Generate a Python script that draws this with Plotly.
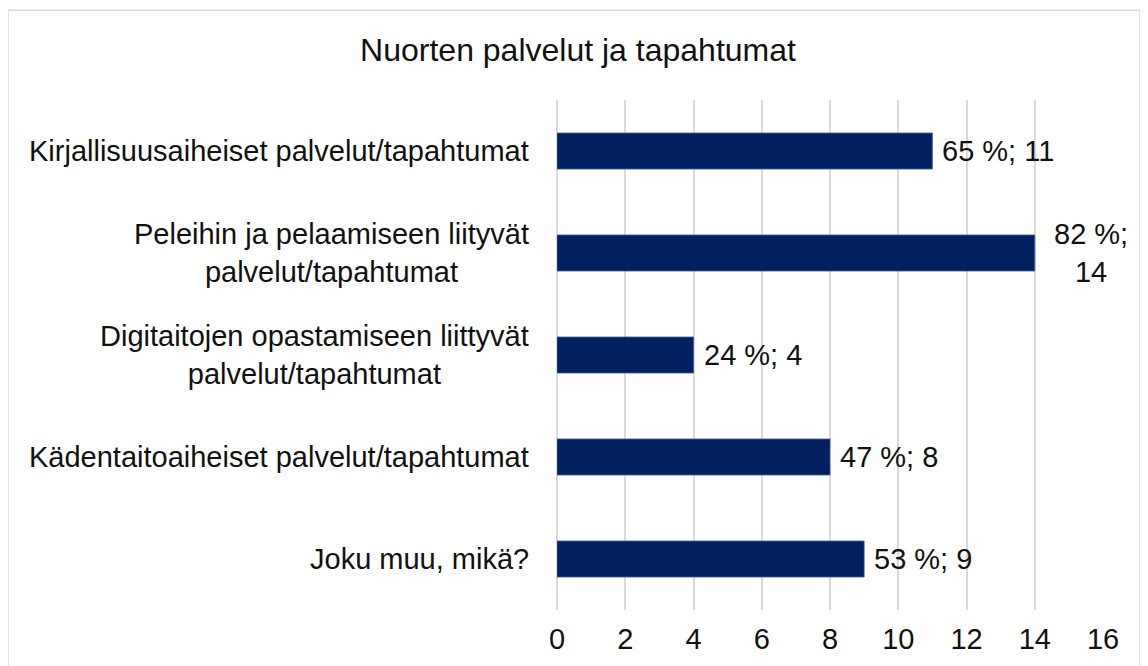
import plotly.graph_objects as go

# Data
categories = [
    "Kirjallisuusaiheiset palvelut/tapahtumat",
    "Peleihin ja pelaamiseen liityvät<br>palvelut/tapahtumat",
    "Digitaitojen opastamiseen liittyvät<br>palvelut/tapahtumat",
    "Kädentaitoaiheiset palvelut/tapahtumat",
    "Joku muu, mikä?",
]
counts = [11, 14, 4, 8, 9]
shares = [65, 82, 24, 47, 53]
x_ticks = [0, 2, 4, 6, 8, 10, 12, 14, 16]

FONT = "Liberation Sans, Arial, sans-serif"
TXT = "#111111"
BAR = "#002060"
GRID = "#D9D9D9"

fig = go.Figure()

fig.add_trace(
    go.Bar(
        x=counts,
        y=categories,
        orientation="h",
        marker=dict(color=BAR, line=dict(color="#3B5B97", width=0.8)),
        hoverinfo="skip",
    )
)

# Data labels; the long one wraps like in the original
for c, s, cat in zip(counts, shares, categories):
    label = f"{s} %; {c}"
    shift = 8
    if c == max(counts):
        label = f"{s} %;<br>{c}"
        shift = 17
    fig.add_annotation(
        x=c, y=cat, xref="x", yref="y",
        text=label, showarrow=False,
        xanchor="left", yanchor="middle", align="center",
        xshift=shift,
        font=dict(family=FONT, size=29, color=TXT),
    )

# Category labels (centered multi-line like Excel)
for cat in categories:
    fig.add_annotation(
        x=0, y=cat, xref="paper", yref="y",
        text=cat, showarrow=False,
        xanchor="right", yanchor="middle", align="center",
        xshift=-26,
        font=dict(family=FONT, size=29, color=TXT),
    )

# Chart border
fig.add_shape(
    type="rect", xref="paper", yref="paper",
    x0=-1.0055, x1=1.0678, y0=-0.2, y1=1.176,
    line=dict(color="#D9D9D9", width=1.5),
    fillcolor="rgba(0,0,0,0)", layer="below",
)

fig.update_layout(
    width=1140,
    height=658,
    margin=dict(l=549, r=45, t=92, b=56),
    paper_bgcolor="white",
    plot_bgcolor="white",
    bargap=0.647,
    showlegend=False,
    title=dict(
        text="Nuorten palvelut ja tapahtumat",
        x=0.5, xref="container", xanchor="center",
        y=0.936, yref="container", yanchor="middle",
        font=dict(family=FONT, size=32, color=TXT),
    ),
    font=dict(family=FONT, size=29, color=TXT),
    xaxis=dict(
        range=[0, 16],
        tickvals=x_ticks,
        showgrid=True,
        gridcolor=GRID,
        gridwidth=2,
        zeroline=True,
        zerolinecolor=GRID,
        zerolinewidth=2,
        showline=False,
        ticks="",
        ticklabelstandoff=9,
        tickfont=dict(family=FONT, size=29, color=TXT),
        fixedrange=True,
    ),
    yaxis=dict(
        autorange="reversed",
        showticklabels=False,
        showgrid=False,
        zeroline=False,
        ticks="",
        fixedrange=True,
    ),
)

fig.write_html("out.html")
